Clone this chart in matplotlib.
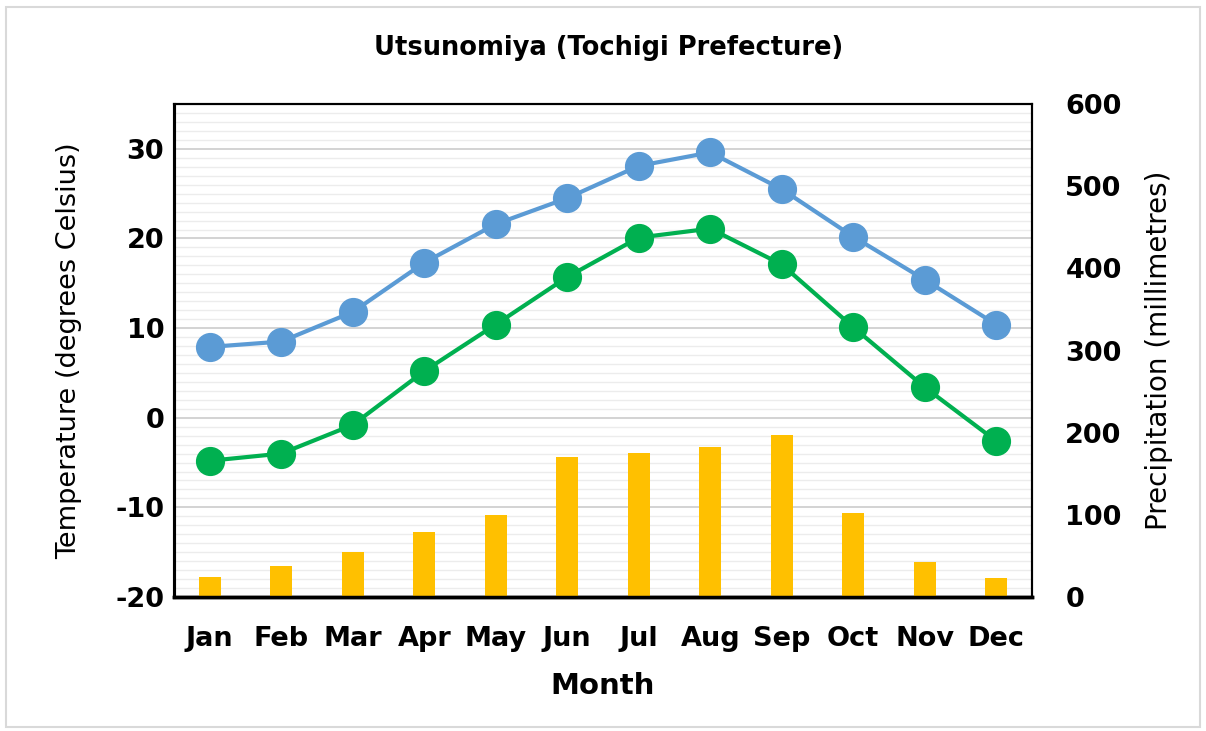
import matplotlib.pyplot as plt
from matplotlib.patches import Rectangle
from matplotlib.ticker import MultipleLocator
import numpy as np

months = ['Jan', 'Feb', 'Mar', 'Apr', 'May', 'Jun', 'Jul', 'Aug', 'Sep', 'Oct', 'Nov', 'Dec']
high_temp = [7.9, 8.5, 11.8, 17.3, 21.6, 24.5, 28.1, 29.6, 25.5, 20.2, 15.4, 10.4]
low_temp = [-4.8, -4.0, -0.8, 5.2, 10.4, 15.7, 20.1, 21.1, 17.1, 10.1, 3.4, -2.6]
precip = [24, 38, 55, 79, 100, 171, 175, 183, 197, 102, 43, 23]

plt.rcParams['font.family'] = ['DejaVu Sans']
plt.rcParams['axes.unicode_minus'] = False

fig = plt.figure(figsize=(12.06, 7.31), dpi=100)
fig.patches.append(Rectangle((0.005, 0.005), 0.99, 0.985, transform=fig.transFigure,
                             fill=False, edgecolor='#d9d9d9', linewidth=1.5))

ax = fig.add_axes([0.1443, 0.1833, 0.7114, 0.6744])
ax2 = ax.twinx()
x = np.arange(len(months))

# temperature lines + grid on the main axes (below), bars on the twin (above)
ax.plot(x, high_temp, color='#5B9BD5', lw=3, marker='o', ms=20, zorder=3)
ax.plot(x, low_temp, color='#00B050', lw=3, marker='o', ms=20, zorder=3)
ax.set_ylim(-20, 35)
ax.set_xlim(-0.5, 11.5)
ax.set_yticks([-20, -10, 0, 10, 20, 30])
ax.yaxis.set_minor_locator(MultipleLocator(1))
ax.grid(axis='y', which='major', color='#d0d0d0', lw=1.3)
ax.grid(axis='y', which='minor', color='#ececec', lw=1.0)
ax.set_axisbelow(True)

ax2.bar(x, precip, width=0.31, color='#FFC000', zorder=2)
ax2.set_ylim(0, 600)
ax2.yaxis.set_major_locator(MultipleLocator(100))

ax.set_xticks(x)
ax.set_xticklabels(months, fontsize=19.5, fontweight='bold')
for lab in ax.get_yticklabels() + ax2.get_yticklabels():
    lab.set_fontsize(19.5)
    lab.set_fontweight('bold')
ax.tick_params(axis='both', which='both', length=0)
ax.tick_params(axis='x', pad=21)
ax.tick_params(axis='y', pad=7)
ax2.tick_params(axis='y', length=0, pad=24)

for a in (ax, ax2):
    for s in a.spines.values():
        s.set_color('black')
        s.set_linewidth(1.5)
    a.spines['left'].set_linewidth(2.2)
    a.spines['bottom'].set_linewidth(2.5)

ax.set_xlabel('Month', fontsize=21, fontweight='bold', labelpad=14)
ax.set_ylabel('Temperature (degrees Celsius)', fontsize=19.5, labelpad=24)
ax2.set_ylabel('Precipitation (millimetres)', fontsize=20, labelpad=17)
fig.text(0.505, 0.934, 'Utsunomiya (Tochigi Prefecture)', ha='center', va='center',
         fontsize=18.5, fontweight='bold')

fig.savefig('out.png', dpi=100)
